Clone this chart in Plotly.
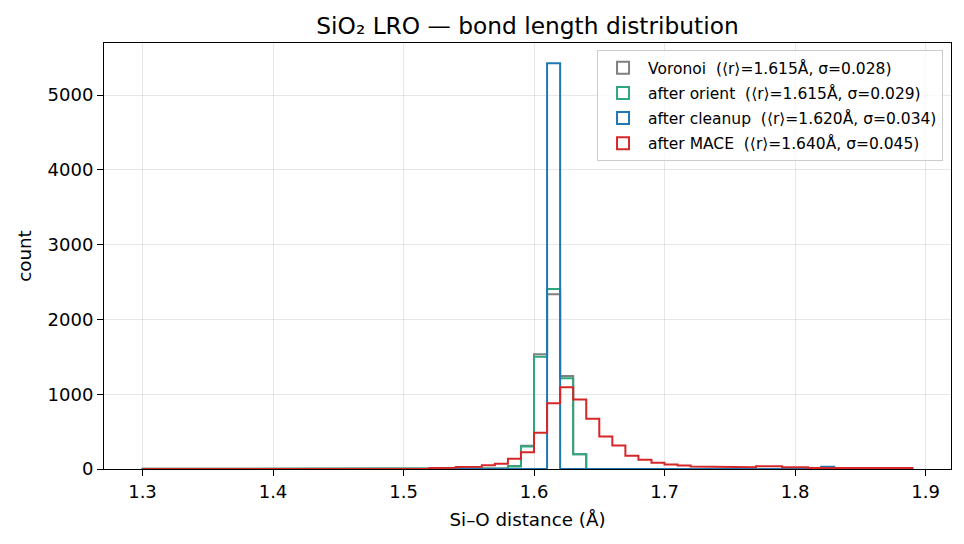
import numpy as np
import plotly.graph_objects as go

# bins: 1.30 .. 1.89, width 0.01 (59 bins)
bin_start = 1.30
bin_width = 0.01
n_bins = 59

labels = [
    "Voronoi  (⟨r⟩=1.615Å, σ=0.028)",
    "after orient  (⟨r⟩=1.615Å, σ=0.029)",
    "after cleanup  (⟨r⟩=1.620Å, σ=0.034)",
    "after MACE  (⟨r⟩=1.640Å, σ=0.045)",
]
colors = ["#808080", "#2ea77a", "#1f77b4", "#d62728"]

# counts per bin, index 0 -> [1.30,1.31)
voronoi = [3, 3, 3, 3, 0, 3, 3, 3, 3, 3, 3, 0, 3, 0, 3, 3, 0, 0, 3, 3, 3, 3,
           0, 0, 0, 0, 5, 10, 40, 310, 1533, 2335, 1243, 196, 3, 3, 3, 3, 2, 2,
           0, 0, 0, 0, 0, 0, 0, 0, 0, 0, 0, 0, 0, 0, 0, 0, 0, 0, 0]
orient = [3, 3, 3, 3, 0, 3, 3, 3, 3, 3, 3, 0, 3, 0, 3, 3, 0, 0, 3, 3, 3, 3,
          0, 0, 0, 0, 5, 10, 33, 300, 1502, 2406, 1212, 196, 3, 3, 3, 3, 2, 2,
          0, 0, 0, 0, 0, 0, 0, 0, 0, 0, 0, 0, 0, 0, 0, 0, 0, 0, 0]
cleanup = [0, 0, 0, 0, 0, 0, 0, 0, 0, 0, 0, 0, 0, 0, 0, 0, 0, 0, 0, 0, 0, 0,
           0, 0, 0, 0, 0, 0, 0, 0, 0, 5424, 0, 0, 0, 0, 0, 0, 0, 0,
           5, 5, 0, 0, 0, 0, 0, 0, 0, 0, 0, 0, 29, 0, 0, 0, 0, 0, 0]
mace = [1, 1, 1, 1, 2, 1, 1, 1, 2, 2, 1, 1, 1, 1, 1, 1, 2, 2, 1, 1, 1, 1,
        14, 16, 28, 30, 50, 69, 136, 225, 484, 880, 1094, 929, 671, 434, 314, 176, 122, 82,
        60, 47, 33, 33, 33, 33, 24, 38, 38, 24, 24, 13, 13, 13, 13, 13, 13, 13, 13]

series = [voronoi, orient, cleanup, mace]

edges = bin_start + bin_width * np.arange(n_bins + 1)

fig = go.Figure()
for counts, color in zip(series, colors):
    c = np.asarray(counts, dtype=float)
    xs = np.repeat(edges, 2)
    ys = np.concatenate([[0.0], np.repeat(c, 2), [0.0]])
    fig.add_trace(go.Scatter(x=xs, y=ys, mode="lines",
                             line=dict(color=color, width=2),
                             showlegend=False, hoverinfo="skip"))

for i, (name, color) in enumerate(zip(labels, colors)):
    fig.add_trace(go.Bar(x=[None], y=[None], name=name, legendgroup=f"g{i}",
                         marker=dict(color="rgba(0,0,0,0)",
                                     line=dict(color=color, width=2))))

span = edges[-1] - edges[0]
xmin = edges[0] - 0.05 * span
xmax = edges[-1] + 0.05 * span
ymax = max(max(s) for s in series) * 1.05

axis_common = dict(showline=True, linecolor="black", linewidth=1, mirror=True,
                   ticks="outside", ticklen=6, tickcolor="black",
                   showgrid=True, gridcolor="rgba(176,176,176,0.3)", gridwidth=1,
                   zeroline=False, tickfont=dict(size=18, color="black"))

fig.update_layout(
    width=964, height=544,
    margin=dict(l=104, r=13, t=43, b=75),
    paper_bgcolor="white", plot_bgcolor="white",
    font=dict(family="DejaVu Sans", color="black"),
    title=dict(text="SiO₂ LRO — bond length distribution", x=0.5, xanchor="center",
               xref="paper",
               y=1 - 26 / 544, yanchor="middle", yref="container",
               font=dict(size=23.3, color="black")),
    xaxis=dict(type="linear", range=[xmin, xmax], tickvals=[1.3, 1.4, 1.5, 1.6, 1.7, 1.8, 1.9],
               ticktext=["1.3", "1.4", "1.5", "1.6", "1.7", "1.8", "1.9"],
               title=dict(text="Si–O distance (Å)", font=dict(size=18.3), standoff=12),
               **axis_common),
    yaxis=dict(range=[0, ymax], tickvals=[0, 1000, 2000, 3000, 4000, 5000],
               title=dict(text="count", font=dict(size=18.3), standoff=11),
               **axis_common),
    legend=dict(x=0.9906, xanchor="right", y=0.983, yanchor="top",
                bgcolor="rgba(255,255,255,0.8)", bordercolor="#cccccc", borderwidth=1,
                font=dict(size=15.5, color="black"), tracegroupgap=2, itemwidth=40),
    showlegend=True,
)

fig.write_html("out.html")
